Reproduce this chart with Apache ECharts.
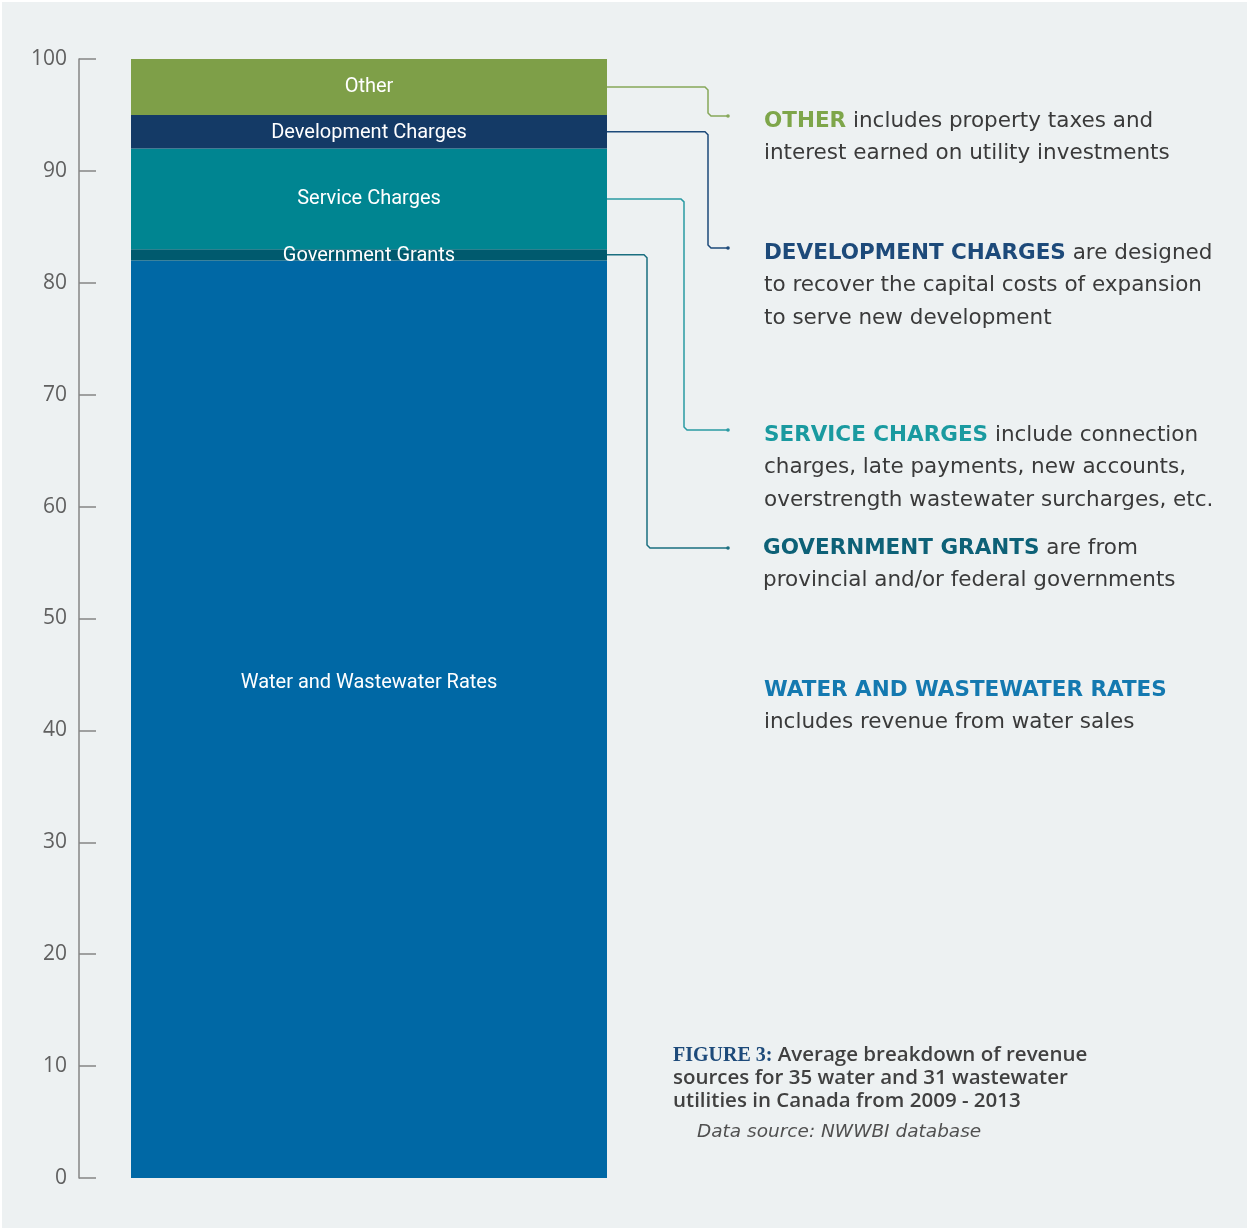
<!DOCTYPE html>
<html>
<head>
<meta charset="utf-8">
<script src="https://cdn.jsdelivr.net/npm/echarts@6/dist/echarts.min.js"></script>
<style>
html,body{margin:0;padding:0;background:#ffffff;}
#chart{width:1249px;height:1230px;}
</style>
</head>
<body>
<div id="chart"></div>
<script>
// ---- Data ----
const categories = ['Revenue'];
const seriesNames = ['Water and Wastewater Rates', 'Government Grants', 'Service Charges', 'Development Charges', 'Other'];
const waterRates = [82];
const governmentGrants = [1];
const serviceCharges = [9];
const developmentCharges = [3];
const otherRevenue = [5];
const yAxisMin = 0, yAxisMax = 100, yAxisInterval = 10;

const seriesValues = [waterRates, governmentGrants, serviceCharges, developmentCharges, otherRevenue];
const seriesColors = ['#0068a5', '#005a6e', '#008591', '#143a66', '#7e9f48'];
const connectorColors = ['#0068a5', '#1a6f80', '#2a9aa3', '#1d4a7a', '#86a85a'];
const labelOffsets = [[0, -36], [0, 1], [0, 0], [0, 1], [0, 0]];

const BAR_WIDTH = 476;
const chart = echarts.init(document.getElementById('chart'), null, {renderer: 'canvas'});

const series = seriesNames.map((name, i) => ({
  name: name,
  type: 'bar',
  stack: 'total',
  barWidth: BAR_WIDTH,
  data: seriesValues[i],
  itemStyle: {color: seriesColors[i]},
  label: {
    show: true,
    position: 'inside',
    formatter: '{a}',
    color: '#ffffff',
    fontFamily: 'Roboto',
    fontSize: 20,
    offset: labelOffsets[i]
  },
  emphasis: {disabled: true},
  animation: false
}));

const bodyColor = '#3a3a3a';
const textFont = 'DejaVu Sans';
const FS = 21.5;
const LH = 32.5;
function descBlock(x, y, text, headColor) {
  return {
    type: 'text',
    x: x, y: y,
    style: {
      text: text,
      fontFamily: textFont,
      fontSize: FS,
      lineHeight: LH,
      fill: bodyColor,
      verticalAlign: 'top',
      rich: {
        h: {fontFamily: textFont, fontSize: FS, fontWeight: 'bold', fill: headColor, lineHeight: LH}
      }
    }
  };
}

const option = {
  backgroundColor: '#edf1f2',
  animation: false,
  grid: {left: 79, right: 590, top: 59, bottom: 52},
  xAxis: {type: 'category', data: categories, show: false},
  yAxis: {
    type: 'value',
    min: yAxisMin, max: yAxisMax, interval: yAxisInterval,
    axisLine: {show: true, lineStyle: {color: '#858585', width: 1.5}},
    axisTick: {show: true, inside: true, length: 17, lineStyle: {color: '#858585', width: 1.5}},
    axisLabel: {color: '#606060', fontFamily: 'Open Sans', fontSize: 21, margin: 12},
    splitLine: {show: false}
  },
  series: series
};
chart.setOption(option);

// ---- annotations (connectors computed from the axis scale) ----
function cum(idx) { let s = 0; for (let i = 0; i < idx; i++) s += seriesValues[i][0]; return s; }
const graphics = [];
const elbowX = {4: 708, 3: 708, 2: 684, 1: 647};
const endY = {4: 116, 3: 248, 2: 430, 1: 548};
const endX = 728;
[4, 3, 2, 1].forEach(i => {
  const mid = cum(i) + seriesValues[i][0] / 2;
  const p = chart.convertToPixel({seriesIndex: i}, [0, mid]);
  const xr = p[0] + BAR_WIDTH / 2;
  const ex = elbowX[i], ey = endY[i];
  const r = 3;
  graphics.push({
    type: 'polyline',
    shape: {points: [[xr, p[1]], [ex - r, p[1]], [ex, p[1] + r], [ex, ey - r], [ex + r, ey], [endX, ey]]},
    style: {stroke: connectorColors[i], lineWidth: 1.5, fill: null},
    z: 10
  });
  graphics.push({type: 'circle', shape: {cx: endX, cy: ey, r: 1.8}, style: {fill: connectorColors[i]}, z: 10});
});

graphics.push(descBlock(764, 105, '{h|OTHER} includes property taxes and\ninterest earned on utility investments', '#7ea64a'));
graphics.push(descBlock(764, 237, '{h|DEVELOPMENT CHARGES} are designed\nto recover the capital costs of expansion\nto serve new development', '#1d4a7a'));
graphics.push(descBlock(764, 419, '{h|SERVICE CHARGES} include connection\ncharges, late payments, new accounts,\noverstrength wastewater surcharges, etc.', '#1a9aa0'));
graphics.push(descBlock(763, 532, '{h|GOVERNMENT GRANTS} are from\nprovincial and/or federal governments', '#0d6177'));
graphics.push(descBlock(764, 674, '{h|WATER AND WASTEWATER RATES}\nincludes revenue from water sales', '#1479b0'));

graphics.push({
  type: 'text', x: 673, y: 1044,
  style: {
    text: '{f|FIGURE 3:} Average breakdown of revenue\nsources for 35 water and 31 wastewater\nutilities in Canada from 2009 - 2013',
    fontFamily: 'Open Sans', fontSize: 20.5, fontWeight: 600, fill: '#404040', lineHeight: 23,
    verticalAlign: 'top',
    rich: {
      f: {fontFamily: 'Liberation Serif', fontSize: 20, fontWeight: 'bold', fill: '#1d4a7a', lineHeight: 23}
    }
  }
});
graphics.push({
  type: 'text', x: 697, y: 1123,
  style: {text: 'Data source: NWWBI database', fontFamily: 'DejaVu Sans', fontSize: 18.5, fontStyle: 'italic', fill: '#505050', verticalAlign: 'top'}
});
graphics.push({
  type: 'rect', shape: {x: 0, y: 0, width: 1249, height: 1230},
  style: {fill: null, stroke: '#ffffff', lineWidth: 4}, z: 100, silent: true
});

chart.setOption({graphic: graphics});
</script>
</body>
</html>
